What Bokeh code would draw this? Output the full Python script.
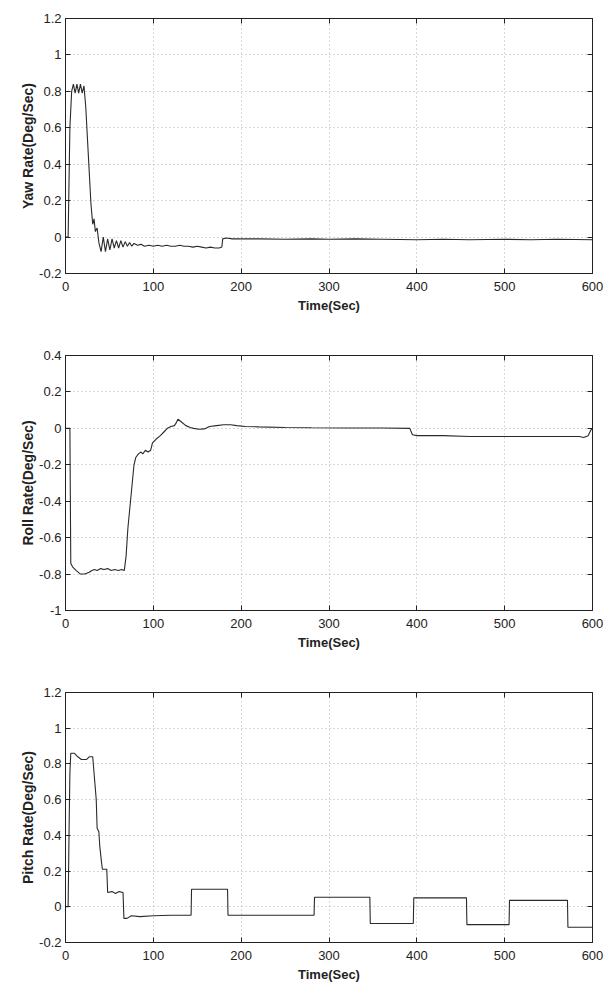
from bokeh.plotting import figure
from bokeh.layouts import column
from bokeh.models import Range1d, FixedTicker, LinearAxis, CustomJSTickFormatter
from bokeh.embed import file_html
from bokeh.resources import INLINE

# ---- data (time in s, rate in deg/s) ----
yaw_points = [
    (0, 0), (3, 0), (5, 0.6), (7, 0.8), (9, 0.84), (11, 0.79), (13, 0.84), (15, 0.79),
    (17, 0.84), (19, 0.79), (21, 0.83), (23, 0.72), (26, 0.45), (29, 0.18), (31, 0.07),
    (32.5, 0.1), (34, 0.03), (36, 0.05), (38, -0.03), (40.5, -0.08), (43, 0.0),
    (45.5, -0.08), (48, -0.01), (50.5, -0.07), (53, -0.01), (55.5, -0.06), (58, -0.02),
    (60.5, -0.06), (63, -0.02), (65.5, -0.055), (68, -0.025), (70.5, -0.05), (73, -0.03),
    (75.5, -0.05), (78, -0.035), (82, -0.045), (86, -0.04), (90, -0.05), (95, -0.045),
    (100, -0.05), (105, -0.045), (110, -0.05), (115, -0.045), (120, -0.05), (125, -0.05),
    (130, -0.045), (135, -0.05), (140, -0.05), (145, -0.055), (150, -0.05), (155, -0.055),
    (160, -0.06), (165, -0.055), (170, -0.06), (175, -0.06), (178, -0.055), (179, -0.01),
    (183, -0.005), (190, -0.01), (200, -0.01), (220, -0.01), (250, -0.012), (280, -0.01),
    (300, -0.012), (330, -0.01), (360, -0.012), (400, -0.015), (430, -0.012), (460, -0.015),
    (500, -0.012), (530, -0.015), (560, -0.012), (600, -0.015),
]

roll_points = [
    (0, 0), (5, 0), (6, -0.74), (8, -0.76), (12, -0.78), (17, -0.8), (22, -0.8),
    (27, -0.79), (30, -0.78), (33, -0.775), (36, -0.78), (40, -0.77), (44, -0.775),
    (48, -0.77), (52, -0.78), (56, -0.775), (60, -0.78), (64, -0.775), (67, -0.78),
    (69, -0.7), (71, -0.55), (74, -0.4), (76, -0.3), (78, -0.2), (80, -0.16), (83, -0.14),
    (86, -0.13), (88, -0.14), (91, -0.12), (94, -0.13), (97, -0.12), (99, -0.08),
    (103, -0.06), (108, -0.04), (112, -0.02), (116, 0.0), (120, 0.01), (124, 0.015),
    (126, 0.03), (128, 0.05), (132, 0.035), (137, 0.015), (142, 0.005), (146, 0.0),
    (152, -0.005), (158, -0.003), (164, 0.01), (172, 0.015), (180, 0.02), (188, 0.02),
    (195, 0.015), (205, 0.01), (220, 0.008), (250, 0.005), (280, 0.003), (320, 0.002),
    (360, 0.002), (392, 0.0), (395, -0.035), (400, -0.04), (430, -0.04), (460, -0.045),
    (500, -0.045), (540, -0.045), (570, -0.045), (585, -0.045), (590, -0.05), (595, -0.04),
    (598, -0.01), (600, 0.0),
]

pitch_points = [
    (0, 0), (3, 0), (4, 0.4), (5, 0.75), (6, 0.86), (10, 0.86), (14, 0.84), (18, 0.825),
    (24, 0.825), (27, 0.84), (31, 0.84), (33, 0.72), (35, 0.6), (36, 0.44), (38, 0.42),
    (39, 0.34), (41, 0.25), (42, 0.21), (47, 0.21), (48, 0.08), (53, 0.085), (57, 0.075),
    (61, 0.085), (65.5, 0.08), (66.5, -0.065), (70, -0.065), (75, -0.05), (85, -0.055),
    (100, -0.05), (120, -0.047), (143, -0.047), (143.5, 0.098), (184.5, 0.098),
    (185, -0.047), (283, -0.047), (283.5, 0.053), (346.5, 0.053), (347, -0.094),
    (396, -0.094), (396.5, 0.05), (456.5, 0.05), (457, -0.1), (505, -0.1), (505.5, 0.036),
    (571.5, 0.036), (572, -0.115), (600, -0.115),
]

x_ticks = [0, 100, 200, 300, 400, 500, 600]
yaw_ticks = [-0.2, 0, 0.2, 0.4, 0.6, 0.8, 1, 1.2]
roll_ticks = [-1, -0.8, -0.6, -0.4, -0.2, 0, 0.2, 0.4]
pitch_ticks = [-0.2, 0, 0.2, 0.4, 0.6, 0.8, 1, 1.2]

FONT = "Liberation Sans"
fmt_code = "return Number(tick.toFixed(2)).toString();"
blank_code = "return '';"


def make_plot(points, yticks, ylabel, height, b_top, b_bottom, b_left, b_right):
    xs = [p[0] for p in points]
    ys = [p[1] for p in points]
    p = figure(width=604, height=height, output_backend="svg", toolbar_location=None,
               x_range=Range1d(0, 600), y_range=Range1d(yticks[0], yticks[-1]),
               min_border_top=b_top, min_border_bottom=b_bottom,
               min_border_left=b_left, min_border_right=b_right)
    p.background_fill_color = "white"
    p.border_fill_color = "white"
    p.outline_line_color = "#222222"
    p.outline_line_width = 1

    p.line(xs, ys, line_color="#2a2a2a", line_width=1.1)

    for ax in (p.xaxis[0], p.yaxis[0]):
        ax.major_tick_in = 5
        ax.major_tick_out = 0
        ax.minor_tick_line_color = None
        ax.axis_line_color = "#222222"
        ax.major_tick_line_color = "#222222"
        ax.major_label_text_font = FONT
        ax.major_label_text_font_size = "13px"
        ax.major_label_text_color = "#222222"
        ax.axis_label_text_font = FONT
        ax.axis_label_text_font_style = "bold"
        ax.axis_label_text_color = "#222222"

    p.xaxis[0].axis_label_text_font_size = "13px"
    p.yaxis[0].axis_label_text_font_size = "14px"
    p.xaxis[0].ticker = FixedTicker(ticks=x_ticks)
    p.yaxis[0].ticker = FixedTicker(ticks=yticks)
    p.yaxis[0].formatter = CustomJSTickFormatter(code=fmt_code)
    p.xaxis[0].axis_label = "Time(Sec)"
    p.yaxis[0].axis_label = ylabel
    p.xaxis[0].major_label_standoff = 8
    p.xaxis[0].axis_label_standoff = 4
    p.yaxis[0].major_label_standoff = 4
    p.yaxis[0].axis_label_standoff = 0

    # inner ticks on top and right, like a MATLAB box
    top = LinearAxis(ticker=FixedTicker(ticks=x_ticks), major_tick_in=5, major_tick_out=0,
                     minor_tick_line_color=None, axis_line_color=None,
                     formatter=CustomJSTickFormatter(code=blank_code), major_label_standoff=0,
                     major_tick_line_color="#222222")
    right = LinearAxis(ticker=FixedTicker(ticks=yticks), major_tick_in=5, major_tick_out=0,
                       minor_tick_line_color=None, axis_line_color=None,
                       formatter=CustomJSTickFormatter(code=blank_code), major_label_standoff=0,
                       major_tick_line_color="#222222")
    p.add_layout(top, "above")
    p.add_layout(right, "right")

    p.grid.grid_line_color = "#b0b0b0"
    p.grid.grid_line_dash = "1 3"
    p.grid.grid_line_width = 1
    p.xgrid.ticker = FixedTicker(ticks=x_ticks)
    p.ygrid.ticker = FixedTicker(ticks=yticks)
    return p


p1 = make_plot(yaw_points, yaw_ticks, "Yaw Rate(Deg/Sec)", 326, 18, 53, 65, 8)
p2 = make_plot(roll_points, roll_ticks, "Roll Rate(Deg/Sec)", 334, 29, 50, 64, 11)
p3 = make_plot(pitch_points, pitch_ticks, "Pitch Rate(Deg/Sec)", 324, 32, 38, 62, 12)

layout = column(p1, p2, p3, spacing=0)
open("out.html", "w").write(file_html(layout, INLINE))
